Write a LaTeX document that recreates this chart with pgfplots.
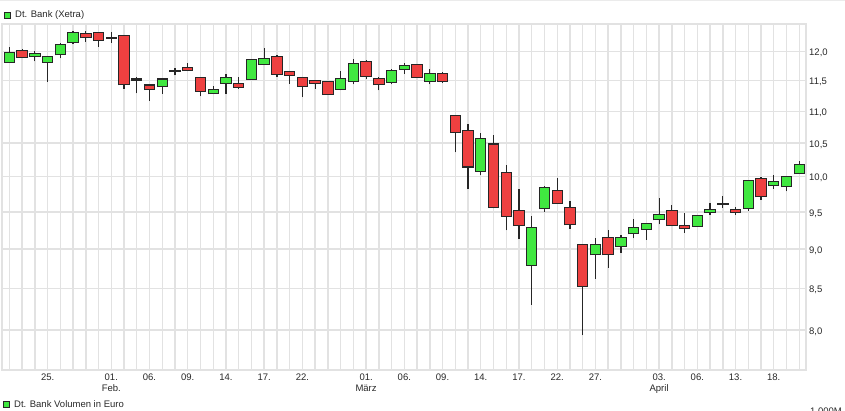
\documentclass[border=0pt]{standalone}
\usepackage{fontspec}
\setmainfont{Liberation Sans}
\usepackage{pgfplots}
\usepackage{pgfplotstable}
\pgfplotsset{compat=1.18}

\definecolor{gridc}{RGB}{226,226,226}
\definecolor{candleGreen}{RGB}{64,232,64}
\definecolor{candleRed}{RGB}{238,64,64}
\definecolor{txt}{RGB}{40,40,40}

% day index, open, high, low, close
\pgfplotstableread{
i o h l c
0 11.82 12.07 11.81 11.98
1 12.00 12.05 11.89 11.90
2 11.92 12.00 11.83 11.96
3 11.82 11.91 11.48 11.90
4 11.95 12.15 11.88 12.12
5 12.16 12.36 12.13 12.33
6 12.31 12.36 12.17 12.25
7 12.32 12.32 12.08 12.20
8 12.24 12.35 12.15 12.24
9 12.27 12.29 11.37 11.44
10 11.52 11.57 11.29 11.52
11 11.42 11.44 11.17 11.36
12 11.41 11.52 11.28 11.52
13 11.66 11.71 11.59 11.66
14 11.71 11.80 11.66 11.68
15 11.54 11.57 11.24 11.33
16 11.29 11.41 11.28 11.35
17 11.46 11.61 11.28 11.54
18 11.44 11.56 11.37 11.40
19 11.53 11.85 11.53 11.85
20 11.78 12.06 11.77 11.87
21 11.91 11.93 11.57 11.62
22 11.64 11.67 11.45 11.60
23 11.54 11.57 11.23 11.41
24 11.49 11.52 11.37 11.46
25 11.47 11.48 11.28 11.28
26 11.37 11.66 11.34 11.53
27 11.50 11.87 11.44 11.78
28 11.82 11.86 11.53 11.58
29 11.53 11.56 11.34 11.44
30 11.48 11.69 11.44 11.66
31 11.70 11.80 11.61 11.75
32 11.76 11.76 11.55 11.57
33 11.50 11.70 11.44 11.61
34 11.61 11.64 11.46 11.50
35 10.92 10.94 10.36 10.67
36 10.69 10.79 9.82 10.15
37 10.09 10.65 10.02 10.56
38 10.48 10.63 9.55 9.57
39 10.06 10.17 9.25 9.45
40 9.51 9.83 9.13 9.32
41 8.80 9.44 8.30 9.28
42 9.55 9.87 9.50 9.84
43 9.79 9.98 9.63 9.63
44 9.56 9.65 9.27 9.33
45 9.05 9.05 7.94 8.53
46 8.93 9.14 8.62 9.05
47 9.14 9.26 8.76 8.93
48 9.04 9.19 8.95 9.15
49 9.21 9.40 9.14 9.28
50 9.27 9.33 9.12 9.33
51 9.40 9.70 9.33 9.46
52 9.51 9.60 9.32 9.32
53 9.31 9.48 9.22 9.28
54 9.31 9.46 9.31 9.44
55 9.50 9.62 9.46 9.53
56 9.61 9.72 9.56 9.61
57 9.53 9.57 9.46 9.50
58 9.56 9.94 9.52 9.94
59 9.97 9.99 9.67 9.72
60 9.88 10.03 9.83 9.92
61 9.86 10.00 9.79 9.99
62 10.05 10.23 10.05 10.17
}\ohlc

\begin{document}
\begin{tikzpicture}[font=\fontsize{9.5}{11}\selectfont,text=txt]
\draw[gridc!70, line width=1pt] (0pt,410.5pt) -- (845pt,410.5pt);

% the price scale is logarithmic: prices are plotted as ln(price)
\begin{axis}[
    at={(2pt,41pt)}, anchor=south west,
    scale only axis, width=804pt, height=346pt,
    xmin=-0.58, xmax=62.53,
    ymin=2.0212, ymax=2.5249,
    axis line style={draw=gridc, line width=1.4pt},
    xmajorgrids=false, xminorgrids=true, ymajorgrids=true,
    minor grid style={draw=gridc, line width=1.4pt},
    major grid style={draw=gridc, line width=1.4pt},
    xtick={3,8,11,14,17,20,23,28,31,34,37,40,43,46,51,54,57,60},
    xticklabels={25.,{01.\\Feb.},06.,09.,14.,17.,22.,{01.\\März},06.,09.,14.,17.,22.,27.,{03.\\April},06.,13.,18.},
    minor xtick={0,...,62},
    ytick={2.07944,2.14007,2.19722,2.25129,2.30259,2.35138,2.39790,2.44235,2.48491},
    yticklabels={{8,0},{8,5},{9,0},{9,5},{10,0},{10,5},{11,0},{11,5},{12,0}},
    yticklabel pos=right,
    tick style={draw=none},
    xticklabel style={align=center, anchor=north, inner sep=0pt, yshift=-3.5pt},
    yticklabel style={anchor=west, inner sep=0pt, xshift=3pt, yshift=-1.5pt},
]
% wicks
\addplot[draw=none, mark=none, forget plot,
    error bars/.cd, y dir=plus, y explicit, error mark=none,
    error bar style={draw=black!85, line width=1.2pt}]
    table[x=i, y expr={ln(\thisrow{l})}, y error expr={ln(\thisrow{h})-ln(\thisrow{l})}] {\ohlc};
% body outline
\addplot[draw=none, mark=none, forget plot,
    error bars/.cd, y dir=plus, y explicit, error mark=none,
    error bar style={draw=black!85, line width=11.4pt}]
    table[x=i, y expr={ln(min(\thisrow{o},\thisrow{c}))-0.0015},
      y error expr={ln(max(\thisrow{o},\thisrow{c}))-ln(min(\thisrow{o},\thisrow{c}))+0.003}] {\ohlc};
% rising days
\addplot[draw=none, mark=none, forget plot,
    error bars/.cd, y dir=plus, y explicit, error mark=none,
    error bar style={draw=candleGreen, line width=9.4pt}]
    table[x=i, y expr={ln(\thisrow{o})}, y error expr={max(ln(\thisrow{c})-ln(\thisrow{o}),0)}] {\ohlc};
% falling days
\addplot[draw=none, mark=none, forget plot,
    error bars/.cd, y dir=plus, y explicit, error mark=none,
    error bar style={draw=candleRed, line width=9.4pt}]
    table[x=i, y expr={ln(\thisrow{c})}, y error expr={max(ln(\thisrow{o})-ln(\thisrow{c}),0)}] {\ohlc};
\end{axis}

% legends
\draw[black!85, fill=candleGreen, line width=0.8pt] (4.5pt,392.5pt) rectangle (10.5pt,398.5pt);
\node[anchor=west, inner sep=0pt] at (15pt,395.5pt) {Dt. Bank (Xetra)};
\draw[black!85, fill=candleGreen, line width=0.8pt] (3.5pt,3.8pt) rectangle (9.5pt,9.8pt);
\node[anchor=west, inner sep=0pt] at (14pt,6.8pt) {Dt. Bank Volumen in Euro};
\node[anchor=north west, inner sep=0pt] at (810pt,3.2pt) {1.000M};

\pgfresetboundingbox
\useasboundingbox (0pt,0pt) rectangle (845pt,411pt);
\end{tikzpicture}
\end{document}
